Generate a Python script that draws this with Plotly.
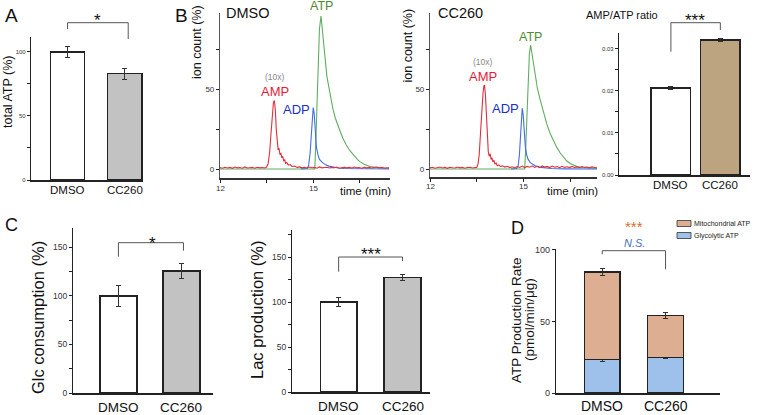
import plotly.graph_objects as go

W, H = 757, 415
FONT = "Liberation Sans, Arial, sans-serif"

# ---------------- data ----------------
groups = ["DMSO", "CC260"]

total_atp = [100, 83]
total_atp_err = [4, 4.2]

amp_atp_ratio = [0.0207, 0.0321]
amp_atp_ratio_err = [0.00025, 0.0003]

glc_consumption = [100, 125.5]
glc_consumption_err = [10.5, 8]

lac_production = [100, 127]
lac_production_err = [5, 3.5]

glycolytic_atp = [23.3, 24.7]
glycolytic_atp_err = [1.5, 0.4]
mitochondrial_atp = [61.2, 29.5]
total_rate_err = [2.5, 2.0]

# chromatograms: (time min, ion count %)
dmso_amp = [(12.00, 0.9), (12.08, 0.5), (12.16, 1.1), (12.24, 0.6), (12.32, 1.0), (12.40, 0.4), (12.48, 1.2),
            (12.56, 0.7), (12.64, 0.9), (12.72, 0.5), (12.80, 1.3), (12.88, 0.6), (12.96, 0.8), (13.04, 1.0),
            (13.12, 0.5), (13.20, 1.1), (13.28, 0.7), (13.36, 0.9), (13.44, 0.6), (13.50, 1.2), (13.55, 3.5),
            (13.60, 11), (13.64, 22), (13.68, 35), (13.72, 42), (13.75, 43), (13.78, 37), (13.81, 25),
            (13.84, 15), (13.87, 12), (13.90, 13), (13.93, 9), (13.96, 10), (13.99, 7), (14.02, 8), (14.05, 5),
            (14.08, 6), (14.11, 3.5), (14.15, 4), (14.20, 2.5), (14.26, 2.8), (14.32, 1.6), (14.40, 1.8),
            (14.48, 1.0), (14.56, 1.3), (14.64, 0.7), (14.72, 1.1), (14.80, 0.6), (14.88, 1.2), (14.96, 0.8),
            (15.04, 1.0), (15.12, 0.5), (15.20, 1.3), (15.28, 0.7), (15.36, 0.9), (15.44, 1.1), (15.52, 0.6),
            (15.60, 1.0), (15.68, 0.8), (15.76, 1.2), (15.84, 0.5), (15.92, 0.9), (16.00, 1.1), (16.08, 0.7),
            (16.16, 1.0), (16.24, 0.6), (16.32, 1.2), (16.40, 0.8), (16.48, 0.9), (16.56, 0.5), (16.64, 1.1),
            (16.72, 0.7), (16.80, 1.0), (16.88, 0.6), (16.96, 0.9), (17.04, 1.2), (17.12, 0.7), (17.20, 1.0),
            (17.28, 0.6), (17.36, 0.9), (17.44, 0.8)]
dmso_adp = [(14.60, 0), (14.80, 0.3), (14.85, 2), (14.90, 10), (14.94, 22), (14.97, 33), (15.00, 38.5),
            (15.03, 35), (15.06, 24), (15.10, 14), (15.15, 9), (15.20, 6), (15.30, 4), (15.40, 2.6),
            (15.50, 1.8), (15.65, 1.0), (15.80, 0.6), (16.00, 0.3), (16.40, 0.1), (17.44, 0)]
dmso_atp = [(12.00, 0), (15.05, 0), (15.08, 15), (15.12, 45), (15.16, 70), (15.20, 88), (15.25, 96),
            (15.29, 89), (15.33, 80), (15.38, 70), (15.44, 58), (15.50, 51), (15.56, 45), (15.63, 38),
            (15.71, 32), (15.79, 27), (15.86, 24), (15.95, 19.5), (16.05, 15.5), (16.18, 11.5), (16.30, 8.5),
            (16.42, 6), (16.50, 4.6), (16.62, 3.2), (16.82, 1.6), (17.00, 1.0), (17.20, 0.6), (17.44, 0.4)]

cc260_amp = [(12.00, 0.7), (12.08, 1.1), (12.16, 0.5), (12.24, 0.9), (12.32, 1.2), (12.40, 0.6), (12.48, 1.0),
             (12.56, 0.4), (12.64, 1.1), (12.72, 0.8), (12.80, 0.6), (12.88, 1.2), (12.96, 0.7), (13.04, 1.0),
             (13.12, 0.5), (13.20, 0.9), (13.28, 1.1), (13.36, 0.6), (13.44, 0.8), (13.50, 1.0), (13.54, 3),
             (13.58, 9), (13.62, 22), (13.66, 36), (13.70, 47), (13.73, 52), (13.75, 52.5), (13.78, 46),
             (13.81, 32), (13.84, 18), (13.87, 11), (13.90, 8), (13.93, 9.5), (13.96, 6), (13.99, 7),
             (14.02, 4.5), (14.05, 5.5), (14.08, 3), (14.12, 3.8), (14.16, 2), (14.21, 2.6), (14.27, 1.5),
             (14.33, 2.0), (14.40, 1.2), (14.48, 1.7), (14.56, 0.9), (14.64, 1.4), (14.72, 0.8), (14.80, 1.5),
             (14.88, 1.0), (14.96, 1.8), (15.04, 0.9), (15.12, 1.6), (15.20, 1.1), (15.28, 2.0), (15.36, 1.0),
             (15.44, 1.7), (15.52, 0.8), (15.60, 1.9), (15.68, 1.2), (15.76, 1.6), (15.84, 0.9), (15.92, 1.8),
             (16.00, 1.1), (16.08, 1.5), (16.16, 0.8), (16.24, 1.7), (16.32, 1.0), (16.40, 1.4), (16.48, 0.9),
             (16.56, 1.6), (16.64, 1.0), (16.72, 1.3), (16.80, 0.8), (16.88, 1.5), (16.96, 1.0), (17.04, 1.2),
             (17.12, 0.7), (17.20, 1.3), (17.28, 0.9), (17.36, 1.1)]
cc260_adp = [(14.60, 0), (14.78, 0.3), (14.83, 2), (14.87, 9), (14.91, 22), (14.94, 33), (14.96, 38),
             (14.99, 34), (15.02, 24), (15.06, 14), (15.10, 9), (15.15, 6), (15.22, 4), (15.30, 2.8),
             (15.40, 1.8), (15.55, 1.0), (15.70, 0.6), (15.90, 0.3), (16.30, 0.1), (17.36, 0)]
cc260_atp = [(12.00, 0), (15.04, 0), (15.07, 12), (15.11, 36), (15.15, 58), (15.19, 72), (15.23, 77.5),
             (15.27, 72), (15.32, 65), (15.38, 57), (15.45, 50), (15.54, 43), (15.64, 35), (15.75, 28),
             (15.86, 22), (15.97, 17), (16.07, 13.5), (16.18, 10), (16.29, 7), (16.39, 5), (16.50, 3.4),
             (16.61, 2.3), (16.72, 1.5), (16.90, 0.9), (17.10, 0.5), (17.36, 0.3)]

chrom_xticks = [12, 13.5, 15, 16.5]
chrom_xticktext = ["12", "", "15", ""]
chrom_yticks = [0, 25, 50, 75]
chrom_yticktext = ["0", "", "50", ""]

# ---------------- layout geometry (pixels) ----------------
panels = {
    "A":  dict(x="x",  y="y",  px=(31, 143),  py=(37, 180),  xr=(-0.64, 1.32), yr=(0, 111.7)),
    "B1": dict(x="x2", y="y2", px=(220, 390), py=(13, 178),  xr=(12, 17.47),   yr=(-5.65, 97.9)),
    "B2": dict(x="x3", y="y3", px=(430, 597), py=(13, 177),  xr=(12, 17.36),   yr=(-5.0, 97.5)),
    "B3": dict(x="x4", y="y4", px=(619, 750), py=(33, 175),  xr=(-1.05, 1.6),  yr=(0, 0.0338)),
    "C1": dict(x="x5", y="y5", px=(73, 213),  py=(228, 393), xr=(-0.72, 1.5),  yr=(0, 170)),
    "C2": dict(x="x6", y="y6", px=(292, 430), py=(230, 392), xr=(-0.73, 1.43), yr=(0, 180)),
    "D":  dict(x="x7", y="y7", px=(556, 720), py=(249, 393), xr=(-0.73, 1.86), yr=(0, 100.5)),
}

AXC = "#222222"
TICKC = "#333333"


def axname(ref):
    return ("xaxis" if ref[0] == "x" else "yaxis") + ref[1:]


def xpx(p, xv):
    P = panels[p]
    return P["px"][0] + (xv - P["xr"][0]) / (P["xr"][1] - P["xr"][0]) * (P["px"][1] - P["px"][0])


fig = go.Figure()
layout = dict(
    width=W, height=H, margin=dict(l=0, r=0, t=0, b=0, autoexpand=False),
    paper_bgcolor="white", plot_bgcolor="white", showlegend=False,
    barmode="stack", font=dict(family=FONT, color="#111"),
)

for name, P in panels.items():
    xa = dict(domain=[P["px"][0] / W, P["px"][1] / W], range=list(P["xr"]), anchor=P["y"],
              showline=True, linecolor=AXC, linewidth=1.5, showgrid=False, zeroline=False,
              fixedrange=True, automargin=False, showticklabels=False)
    ya = dict(domain=[1 - P["py"][1] / H, 1 - P["py"][0] / H], range=list(P["yr"]), anchor=P["x"],
              showline=True, linecolor=AXC, linewidth=1.3, showgrid=False, zeroline=False,
              fixedrange=True, automargin=False, ticks="outside", ticklen=3, tickcolor=AXC, tickwidth=1)
    layout[axname(P["x"])] = xa
    layout[axname(P["y"])] = ya


def bar_axes(p, ysize, yticks, yticktext):
    P = panels[p]
    layout[axname(P["x"])].update(tickmode="array", tickvals=[0, 1], ticks="")
    layout[axname(P["y"])].update(tickmode="array", tickvals=yticks, ticktext=yticktext,
                                   tickfont=dict(size=ysize, color=TICKC, family=FONT))


bar_axes("A", 6, [0, 25, 50, 75, 100], ["0", "", "50", "", "100"])
bar_axes("B3", 6, [0, 0.005, 0.01, 0.015, 0.02, 0.025, 0.03],
         ["0.00", "", "0.01", "", "0.02", "", "0.03"])
bar_axes("C1", 8.5, [0, 25, 50, 75, 100, 125, 150], ["0", "", "50", "", "100", "", "150"])
bar_axes("C2", 8.5, [0, 25, 50, 75, 100, 125, 150, 175], ["0", "", "50", "", "100", "", "150", ""])
bar_axes("D", 9, [0, 50, 100], ["0", "50", "100"])

for p in ("B1", "B2"):
    P = panels[p]
    layout[axname(P["x"])].update(tickmode="array", tickvals=chrom_xticks,
                                   ticks="outside", ticklen=3, tickcolor=AXC, linewidth=2,
                                   linecolor="#333")
    layout[axname(P["y"])].update(tickmode="array", tickvals=chrom_yticks, ticktext=chrom_yticktext,
                                   linecolor="#555", linewidth=1.2,
                                   tickfont=dict(size=8, color=TICKC, family=FONT))


def add_bar(p, vals, errs, colors, width):
    P = panels[p]
    fig.add_trace(go.Bar(x=[0, 1], y=vals, width=width, xaxis=P["x"], yaxis=P["y"],
                         marker=dict(color=colors, line=dict(color=AXC, width=1.5)),
                         error_y=dict(type="data", array=errs, color="#333", thickness=1, width=2.5)))


add_bar("A", total_atp, total_atp_err, ["white", "#C2C2C2"], 0.6)
add_bar("B3", amp_atp_ratio, amp_atp_ratio_err, ["white", "#BBA47F"], 0.8)
add_bar("C1", glc_consumption, glc_consumption_err, ["white", "#C2C2C2"], 0.585)
add_bar("C2", lac_production, lac_production_err, ["white", "#C2C2C2"], 0.573)

PD = panels["D"]
fig.add_trace(go.Bar(x=[0, 1], y=glycolytic_atp, width=0.564, xaxis=PD["x"], yaxis=PD["y"],
                     name="Glycolytic ATP",
                     marker=dict(color="#9EC1EC", line=dict(color=AXC, width=1.3)),
                     error_y=dict(type="data", array=glycolytic_atp_err, color="#333", thickness=1, width=2.5)))
fig.add_trace(go.Bar(x=[0, 1], y=mitochondrial_atp, width=0.564, xaxis=PD["x"], yaxis=PD["y"],
                     name="Mitochondrial ATP",
                     marker=dict(color="#DDAE91", line=dict(color=AXC, width=1.3)),
                     error_y=dict(type="data", array=total_rate_err, color="#333", thickness=1, width=2.5)))

# chromatogram traces
GREEN, BLUE, RED = "#5FAE5F", "#3F6FE0", "#E0303C"
for p, atp, adp, amp in (("B1", dmso_atp, dmso_adp, dmso_amp), ("B2", cc260_atp, cc260_adp, cc260_amp)):
    P = panels[p]
    for series, col in ((atp, GREEN), (adp, BLUE), (amp, RED)):
        fig.add_trace(go.Scatter(x=[s[0] for s in series], y=[s[1] for s in series], mode="lines",
                                 line=dict(color=col, width=1.1), xaxis=P["x"], yaxis=P["y"],
                                 hoverinfo="skip"))

# ---------------- annotations ----------------
anns = []


def ann(text, x, y, size, color="#111", angle=0, xanchor="center", **kw):
    d = dict(text=text, x=x / W, y=1 - y / H, xref="paper", yref="paper", showarrow=False,
             font=dict(size=size, color=color, family=FONT), xanchor=xanchor, yanchor="middle",
             textangle=angle)
    d.update(kw)
    anns.append(d)


# category labels under bars (placed at the bar positions of each axis)
for p, ylab, size in (("A", 190, 11.5), ("B3", 185, 11.5), ("C1", 407, 13.5), ("C2", 406, 13.5), ("D", 406, 14)):
    for i, g in enumerate(groups):
        ann(g, xpx(p, i), ylab, size)

# chromatogram x tick labels
for p, ylab in (("B1", 188), ("B2", 187)):
    for tv, tt in zip(chrom_xticks, chrom_xticktext):
        if tt:
            ann(tt, xpx(p, tv), ylab, 8, TICKC)

# panel letters
ann("A", 11, 15, 19)
ann("B", 181, 15, 19)
ann("C", 11, 225, 18)
ann("D", 517, 228, 18)

# axis titles
ann("total ATP (%)", 8, 92, 12.5, angle=-90)
ann("ion count (%)", 197, 42, 12.5, angle=-90)
ann("ion count (%)", 407.5, 46, 12.5, angle=-90)
ann("Glc consumption (%)", 38, 318, 16.5, angle=-90)
ann("Lac production (%)", 257, 310, 16.5, angle=-90)
ann("ATP Production Rate", 516, 320, 13.5, angle=-90)
ann("(pmol/min/μg)", 529, 320, 13.5, angle=-90)
ann("time (min)", 365, 191, 11.5)
ann("time (min)", 572, 191, 11.5)
ann("AMP/ATP ratio", 622, 15, 11)

# chromatogram labels
ann("DMSO", 248, 13, 14.5)
ann("ATP", 321, 6, 12.5, "#4E8C2F")
ann("(10x)", 275, 77, 8.5, "#888888")
ann("AMP", 275, 92, 13, "#E8193C")
ann("ADP", 296, 109, 13, "#1A2ECC")
ann("CC260", 460, 13, 14.5)
ann("ATP", 530, 37, 12.5, "#4E8C2F")
ann("(10x)", 483, 62, 8.5, "#888888")
ann("AMP", 483, 77, 13, "#E8193C")
ann("ADP", 505, 108, 13, "#1A2ECC")

# significance marks
ann("*", 97, 20, 17)
ann("***", 695, 20, 17)
ann("*", 152, 243, 17)
ann("***", 371, 254, 17)
ann("***", 634, 226.5, 15, "#D4702A")
ann("<i>N.S.</i>", 634, 243, 11, "#4A6FC4")

# legend text
ann("Mitochondrial ATP", 692, 223.5, 7, "#222", xanchor="left")
ann("Glycolytic ATP", 692, 235.5, 7, "#222", xanchor="left")

shapes = []


def pline(x0, y0, x1, y1, color="#555", width=1):
    shapes.append(dict(type="line", xref="paper", yref="paper", x0=x0 / W, y0=1 - y0 / H,
                       x1=x1 / W, y1=1 - y1 / H, line=dict(color=color, width=width)))


def bracket(p, top, left_end, right_end, dl=0.0, dr=0.0):
    xl = xpx(p, 0) + dl
    xr = xpx(p, 1) + dr
    pline(xl, left_end, xl, top)
    pline(xl, top, xr, top)
    pline(xr, top, xr, right_end)


bracket("A", 22.7, 29, 39, 0, 3.5)
bracket("B3", 22.7, 51.7, 30)
bracket("C1", 242.7, 256.7, 250.7, 0, 2)
bracket("C2", 257, 271.7, 261)
bracket("D", 250.7, 254.3, 269.3)

# legend boxes
for (y0, col) in ((220.5, "#DDAE91"), (232.5, "#9EC1EC")):
    shapes.append(dict(type="rect", xref="paper", yref="paper", x0=677 / W, x1=691 / W,
                       y0=1 - (y0 + 6) / H, y1=1 - y0 / H, fillcolor=col,
                       line=dict(color="#333", width=0.8)))

layout["annotations"] = anns
layout["shapes"] = shapes
fig.update_layout(**layout)
fig.write_html(
    "out.html",
    config={"displayModeBar": False},
    post_script="document.body.style.margin='0';document.body.style.overflow='hidden';",
)
